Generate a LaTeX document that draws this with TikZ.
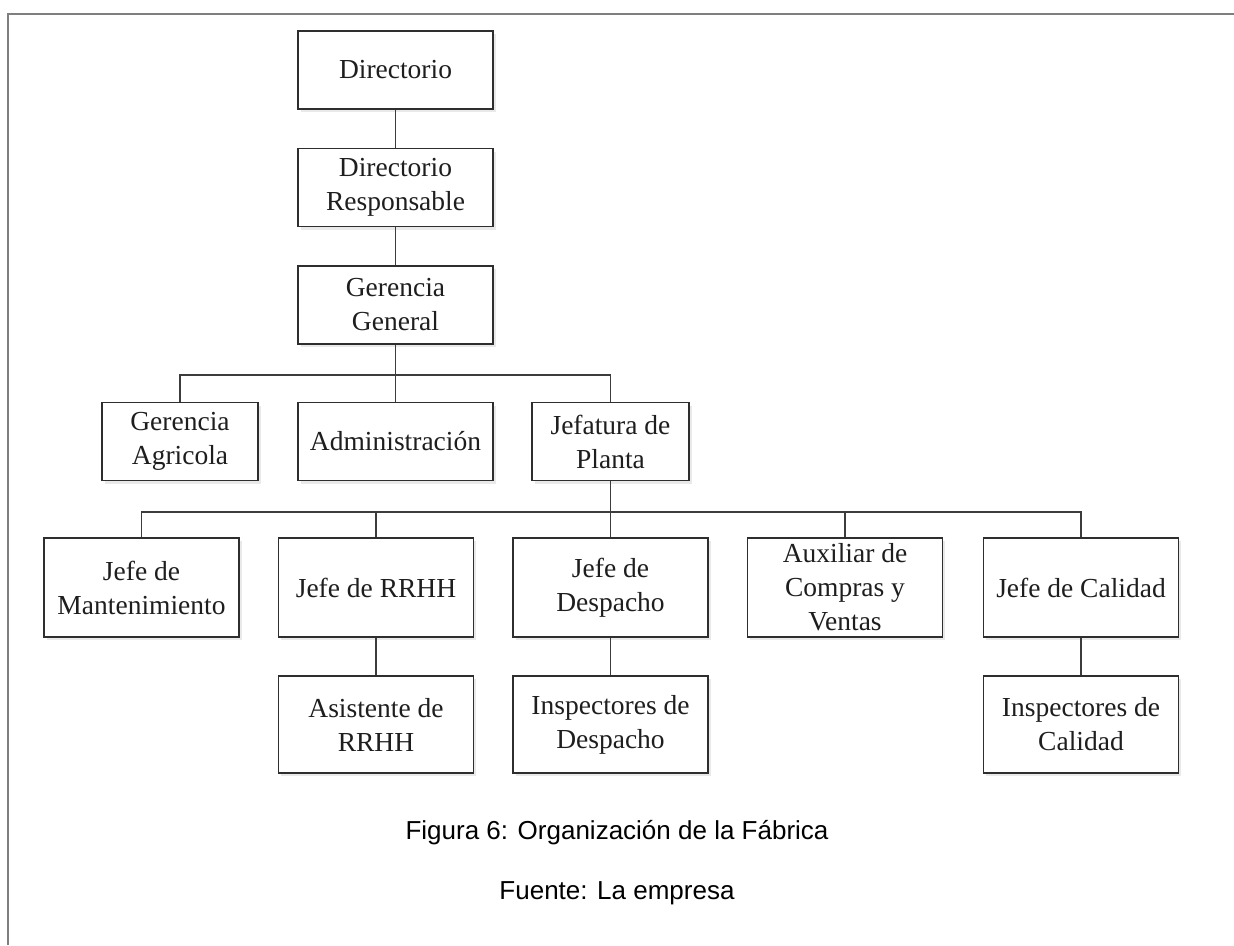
\documentclass[tikz,border=0pt]{standalone}
\usepackage{fontspec}
\setmainfont{Liberation Serif}
\newfontfamily\capfont{Liberation Sans}
\usetikzlibrary{shadows}
\definecolor{boxline}{HTML}{2E2E2E}
\definecolor{linkline}{HTML}{3C3C3C}
\definecolor{framegray}{HTML}{7F7F7F}
\definecolor{txt}{HTML}{1E1E1E}
\tikzset{
  orgbox/.style={draw=boxline, line width=1.8pt, fill=white, inner sep=0pt,
    align=center, text=txt, font=\fontsize{27.5}{34}\selectfont,
    minimum width=195pt,
    drop shadow={shadow xshift=2.5pt, shadow yshift=-3pt, fill=black!35, opacity=0.25}},
  rowA/.style={orgbox, minimum height=78pt},
  rowB/.style={orgbox, minimum height=99pt},
  rowC/.style={orgbox, minimum height=97pt},
  link/.style={draw=linkline, line width=1.8pt},
  caption/.style={font=\capfont\fontsize{26}{30}\selectfont, text=black, inner sep=0pt}
}
\begin{document}
\begin{tikzpicture}[x=1pt, y=-1pt]
\useasboundingbox (0,0) rectangle (1234,945);

% page frame (left and top edges)
\draw[framegray, line width=2pt] (8,945) -- (8,14) -- (1234,14);

% top chain
\node[rowA] (dir)  at (395.5,70)    {Directorio};
\node[rowA] (dres) at (395.5,187.5) {Directorio\\Responsable};
\node[rowA] (gg)   at (395.5,305)   {Gerencia\\General};

% second level
\node[rowA, minimum width=156pt] (ga)  at (180,441.5)   {Gerencia\\Agricola};
\node[rowA]                      (adm) at (395.5,441.5) {Administración};
\node[rowA, minimum width=157pt] (jp)  at (610.5,441.5) {Jefatura de\\Planta};

% third level
\node[rowB] (jm)  at (141.5,587.5) {Jefe de\\Mantenimiento};
\node[rowB] (jr)  at (376,587.5)   {Jefe de RRHH};
\node[rowB] (jd)  at (610.5,587.5) {Jefe de\\Despacho};
\node[rowB] (aux) at (845,587.5)   {Auxiliar de\\Compras y\\Ventas};
\node[rowB] (jc)  at (1081,587.5)  {Jefe de Calidad};

% fourth level
\node[rowC] (ar) at (376,724.5)  {Asistente de\\RRHH};
\node[rowC] (id) at (610.5,724.5) {Inspectores de\\Despacho};
\node[rowC] (ic) at (1081,724.5) {Inspectores de\\Calidad};

% bus levels
\coordinate (busA) at (0,375);
\coordinate (busB) at (0,512);

% connectors
\draw[link] (dir.south) -- (dres.north);
\draw[link] (dres.south) -- (gg.north);
\draw[link] (gg.south) -- (gg.south |- busA);
\draw[link] (ga.north) -- (ga.north |- busA) -- (jp.north |- busA) -- (jp.north);
\draw[link] (adm.north) -- (adm.north |- busA);
\draw[link] (jp.south) -- (jd.north);
\draw[link] (jm.north) -- (jm.north |- busB) -- (jc.north |- busB) -- (jc.north);
\draw[link] (jr.north) -- (jr.north |- busB);
\draw[link] (aux.north) -- (aux.north |- busB);
\draw[link] (jr.south) -- (ar.north);
\draw[link] (jd.south) -- (id.north);
\draw[link] (jc.south) -- (ic.north);

% caption
\node[caption] (cap1) at (617,833) {Figura 6: Organización de la Fábrica};
\node[caption] (cap2) at (617,893) {Fuente: La empresa};
\end{tikzpicture}
\end{document}
